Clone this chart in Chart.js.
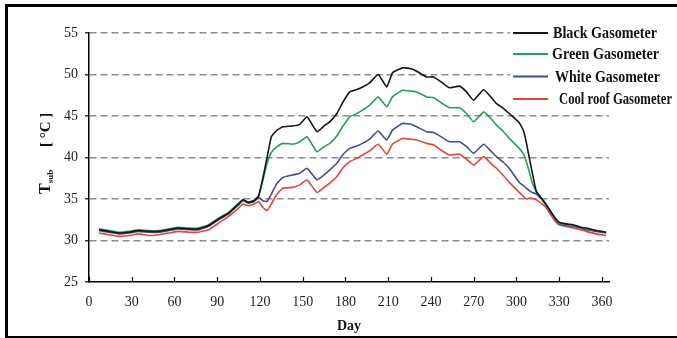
<!DOCTYPE html>
<html>
<head>
<meta charset="utf-8">
<script src="https://cdn.jsdelivr.net/npm/chart.js@4.4.1/dist/chart.umd.min.js"></script>
<style>
  html, body { margin: 0; padding: 0; background: #fff; }
  #wrap { position: relative; width: 677px; height: 338px; }
</style>
</head>
<body>
<div id="wrap"><canvas id="c" width="677" height="338"></canvas></div>
<script>
// Day of year for each sample
const days = [7, 14, 21, 28, 35, 42, 49, 56, 63, 70,
  77, 84, 91, 98, 105, 108, 112, 116, 119,
  122, 125, 128, 132, 136, 143, 148, 153, 160, 165,
  169, 174, 178, 183, 188, 192, 197, 203, 209, 213,
  220, 226, 230, 237, 242, 248, 253, 260, 265, 270,
  277, 282, 286, 291, 295, 302, 305, 307, 309, 311,
  314, 318, 321, 326, 330, 335, 340, 345, 349, 356, 363];

// Substrate temperature (°C) under each gasometer roof
const blackGasometer = [31.3, 31.1, 30.9, 31.0, 31.2, 31.1, 31.1, 31.3, 31.5, 31.4,
  31.4, 31.8, 32.6, 33.3, 34.4, 34.9, 34.6, 34.8, 35.3,
  37.5, 40.0, 42.5, 43.3, 43.7, 43.8, 44.0, 44.9, 43.1, 43.8,
  44.3, 45.3, 46.6, 47.9, 48.2, 48.5, 49.0, 50.0, 48.5, 50.2,
  50.8, 50.7, 50.4, 49.7, 49.7, 49.0, 48.4, 48.6, 47.9, 46.9,
  48.2, 47.3, 46.5, 45.9, 45.3, 44.2, 43.2, 41.8, 40.0, 38.3,
  35.9, 35.0, 34.3, 33.0, 32.2, 32.0, 31.9, 31.6, 31.5, 31.2, 31.0];

const greenGasometer = [31.4, 31.2, 31.0, 31.1, 31.3, 31.2, 31.2, 31.4, 31.6, 31.5,
  31.5, 31.9, 32.7, 33.4, 34.5, 34.9, 34.6, 34.9, 35.4,
  37.2, 39.3, 40.6, 41.3, 41.7, 41.6, 41.9, 42.5, 40.7, 41.3,
  41.7, 42.6, 43.7, 44.9, 45.3, 45.7, 46.3, 47.3, 46.1, 47.3,
  48.1, 48.0, 47.9, 47.3, 47.2, 46.5, 46.0, 46.0, 45.3, 44.3,
  45.5, 44.7, 43.9, 43.1, 42.3, 41.1, 40.4, 39.5, 38.3, 37.0,
  35.9, 35.0, 34.3, 33.0, 32.1, 31.9, 31.8, 31.6, 31.4, 31.2, 31.0];

const whiteGasometer = [31.2, 31.0, 30.8, 30.9, 31.1, 31.0, 31.0, 31.2, 31.4, 31.3,
  31.3, 31.7, 32.5, 33.2, 34.3, 34.8, 34.5, 34.7, 35.2,
  34.8, 34.7, 35.6, 36.9, 37.6, 37.9, 38.1, 38.7, 37.3, 37.9,
  38.5, 39.3, 40.3, 41.1, 41.4, 41.7, 42.2, 43.2, 42.1, 43.3,
  44.1, 44.0, 43.7, 43.1, 43.0, 42.4, 41.9, 41.9, 41.3, 40.5,
  41.6, 40.8, 40.1, 39.4, 38.7, 37.0, 36.6, 36.3, 36.0, 35.8,
  35.6, 34.9, 34.2, 32.9, 32.0, 31.8, 31.7, 31.5, 31.3, 31.1, 30.9];

const coolRoofGasometer = [30.9, 30.7, 30.5, 30.6, 30.8, 30.6, 30.7, 30.9, 31.1, 31.0,
  31.0, 31.3, 32.1, 32.9, 33.9, 34.4, 34.2, 34.4, 34.7,
  34.0, 33.6, 34.4, 35.6, 36.3, 36.4, 36.7, 37.3, 35.8, 36.4,
  36.9, 37.7, 38.7, 39.5, 39.9, 40.3, 40.8, 41.6, 40.4, 41.6,
  42.3, 42.2, 42.1, 41.7, 41.5, 40.8, 40.3, 40.4, 39.8, 39.1,
  40.1, 39.3, 38.7, 37.8, 37.0, 35.8, 35.3, 35.0, 35.1, 35.1,
  34.9, 34.4, 33.9, 32.6, 31.9, 31.7, 31.5, 31.3, 31.1, 30.8, 30.6];

const seriesLabels = ['Black Gasometer', 'Green Gasometer', 'White Gasometer', 'Cool roof Gasometer'];
const seriesColors = ['#161616', '#27a05a', '#424d8f', '#e0473a'];
const seriesValues = [blackGasometer, greenGasometer, whiteGasometer, coolRoofGasometer];

const dayTickStep = 30;
const tempTickStep = 5;
const tempMin = 25, tempMax = 55;

const SERIF = '"Liberation Serif", "Times New Roman", serif';

const datasets = seriesLabels.map((label, i) => ({
  label,
  data: days.map((d, k) => ({ x: d, y: seriesValues[i][k] })),
  borderColor: seriesColors[i],
  borderWidth: 1.6,
  pointRadius: 0,
  tension: 0.12,
  fill: false
}));

// Frame, inward x ticks, legend block and the rotated y-axis title
const decor = {
  id: 'decor',
  afterDraw(chart) {
    const { ctx, chartArea, scales } = chart;
    const xs = scales.x;
    ctx.save();

    // short inward tick marks on the day axis
    ctx.strokeStyle = '#000';
    ctx.lineWidth = 1.2;
    xs.ticks.forEach(t => {
      const px = Math.round(xs.getPixelForValue(t.value)) + 0.5;
      ctx.beginPath();
      ctx.moveTo(px, chartArea.bottom);
      ctx.lineTo(px, chartArea.bottom - 5);
      ctx.stroke();
    });

    // legend block (white backing hides the grid behind it)
    ctx.fillStyle = '#fff';
    ctx.fillRect(510, 20, 167, 90);
    const rowY = [33, 54, 76.5, 99];
    const textX = [553, 552, 555, 559];
    const textW = [104, 107, 105, 113];
    chart.data.datasets.forEach((ds, i) => {
      ctx.strokeStyle = ds.borderColor;
      ctx.lineWidth = 2;
      ctx.beginPath();
      ctx.moveTo(513, rowY[i]);
      ctx.lineTo(548, rowY[i]);
      ctx.stroke();
      ctx.save();
      ctx.font = 'bold 16px ' + SERIF;
      const natural = ctx.measureText(ds.label).width;
      ctx.translate(textX[i], rowY[i]);
      ctx.scale(textW[i] / natural, 1);
      ctx.fillStyle = '#111';
      ctx.textBaseline = 'middle';
      ctx.textAlign = 'left';
      ctx.fillText(ds.label, 0, 1);
      ctx.restore();
    });

    // y-axis title: T_sub [°C]
    ctx.save();
    ctx.translate(50, 194);
    ctx.rotate(-Math.PI / 2);
    ctx.fillStyle = '#111';
    ctx.textBaseline = 'alphabetic';
    ctx.textAlign = 'left';
    ctx.font = 'bold 16px ' + SERIF;
    ctx.fillText('T', 0, 0);
    const w = ctx.measureText('T').width;
    ctx.font = 'bold 9px ' + SERIF;
    ctx.fillText('sub', w, 3);
    ctx.font = 'bold 15px ' + SERIF;
    ctx.fillText('[ °C ]', 47, 0);
    ctx.restore();

    // outer frame: top, left and bottom rules
    ctx.fillStyle = '#000';
    ctx.fillRect(5, 4, 672, 3);
    ctx.fillRect(5, 4, 3, 334);
    ctx.fillRect(5, 336, 672, 2);
    ctx.restore();
  }
};

new Chart(document.getElementById('c'), {
  type: 'line',
  data: { datasets },
  plugins: [decor],
  options: {
    responsive: false,
    animation: false,
    devicePixelRatio: 1,
    layout: { padding: { left: 0, top: 33, right: 68, bottom: 0 } },
    plugins: { legend: { display: false }, tooltip: { enabled: false } },
    scales: {
      x: {
        type: 'linear',
        min: 0,
        max: 365,
        afterFit: s => { s.height = 56; },
        ticks: {
          stepSize: dayTickStep,
          includeBounds: false,
          maxRotation: 0,
          padding: 12,
          color: '#222',
          font: { family: SERIF, size: 14 }
        },
        grid: { display: false, drawTicks: false },
        border: { display: true, color: '#000', width: 1.5 },
        title: {
          display: true,
          text: 'Day',
          color: '#111',
          font: { family: SERIF, size: 14, weight: 'bold' },
          padding: { top: 0, bottom: 3 }
        }
      },
      y: {
        min: tempMin,
        max: tempMax,
        afterFit: s => { s.width = 89; },
        ticks: {
          stepSize: tempTickStep,
          padding: 7,
          color: '#222',
          font: { family: SERIF, size: 14 }
        },
        grid: {
          color: c => (c.tick && c.tick.value === tempMin) ? 'rgba(0,0,0,0)' : '#8c8c8c',
          lineWidth: 1.6,
          drawTicks: true,
          tickLength: 4,
          tickColor: '#000',
          tickWidth: 1.2,
          tickBorderDash: []
        },
        border: { display: true, color: '#000', width: 1.5, dash: [7, 4] }
      }
    }
  }
});
</script>
</body>
</html>
